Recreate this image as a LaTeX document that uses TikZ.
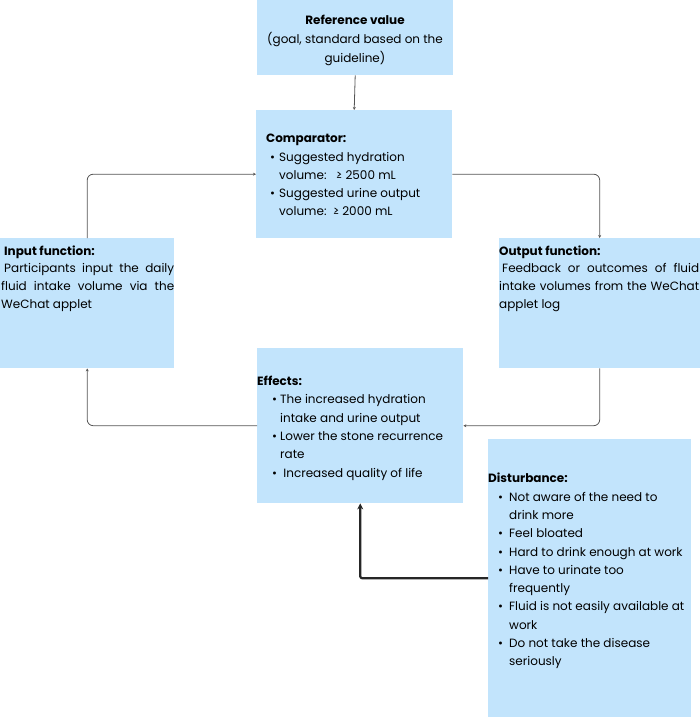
\documentclass[tikz,border=0pt]{standalone}
\usepackage{fontspec}
\setmainfont{Poppins}
\usetikzlibrary{arrows.meta}
\definecolor{boxblue}{HTML}{C2E4FC}
\definecolor{linegray}{HTML}{555555}
\newcommand{\bl}[1]{\makebox[9pt][l]{\textbullet}#1}
\newcommand{\cl}[1]{\hspace*{9pt}#1}
\newcommand{\blb}[1]{\makebox[8pt][l]{\textbullet}#1}
\newcommand{\clb}[1]{\hspace*{8pt}#1}
\newcommand{\bld}[1]{\makebox[11pt][l]{\textbullet}#1}
\newcommand{\cld}[1]{\hspace*{11pt}#1}
\tikzset{
  box/.style={fill=boxblue, draw=none, anchor=north west, inner sep=0pt},
  txt/.style={anchor=north west, inner sep=0pt, align=left, font=\fontsize{12}{18.3}\selectfont},
  jtxt/.style={anchor=north west, inner sep=0pt, align=justify, font=\fontsize{12}{18.3}\selectfont},
  arr/.style={draw=linegray, line width=0.8pt, -{Stealth[length=3pt,width=3pt]}, rounded corners=6pt},
  thickarr/.style={draw=black!85, line width=2.2pt, -{Stealth[length=6pt,width=6pt]}, rounded corners=2pt}
}
\begin{document}
\begin{tikzpicture}[x=1pt,y=-1pt]
\useasboundingbox (0,0) rectangle (700,717);
% boxes
\node[box, minimum width=196pt, minimum height=75pt] (ref) at (257,0) {};
\node[box, minimum width=196pt, minimum height=128pt] (comp) at (256,110) {};
\node[box, minimum width=174pt, minimum height=130pt] (inp) at (0,238) {};
\node[box, minimum width=201pt, minimum height=130pt] (out) at (499,238) {};
\node[box, minimum width=206pt, minimum height=155pt] (eff) at (257,348) {};
\node[box, minimum width=203pt, minimum height=278pt] (dist) at (488,439) {};
% texts
\node[anchor=north, inner sep=0pt, align=center, font=\fontsize{12}{19}\selectfont] (reft) at (355,15) {\textbf{Reference value}\\(goal, standard based on the\\guideline)};
\node[txt] (compt) at (266,134) {\textbf{Comparator:}\\\hspace*{4pt}\bl{Suggested hydration}\\\hspace*{4pt}\cl{volume:\ \ \ ≥ 2500 mL}\\\hspace*{4pt}\bl{Suggested urine output}\\\hspace*{4pt}\cl{volume:\ \ ≥ 2000 mL}};
\node[txt] (inpt) at (4,246) {\textbf{Input function:}};
\node[jtxt, text width=173pt] (inpb) at (1,263) {\hspace*{3pt}Participants input the daily\linebreak fluid intake volume via the\linebreak WeChat applet};
\node[txt] (outt) at (499,246) {\textbf{Output function:}};
\node[jtxt, text width=200pt] (outb) at (499,263) {\hspace*{3pt}Feedback or outcomes of fluid\linebreak intake volumes from the WeChat\linebreak applet log};
\node[txt] (efft) at (257,376) {\textbf{Effects:}\\\hspace*{15pt}\blb{The increased hydration}\\\hspace*{15pt}\clb{intake and urine output}\\\hspace*{15pt}\blb{Lower the stone recurrence}\\\hspace*{15pt}\clb{rate}\\\hspace*{15pt}\blb{\ Increased quality of life}};
\node[txt] (distt) at (488,473) {\textbf{Disturbance:}\\\hspace*{10pt}\bld{Not aware of the need to}\\\hspace*{10pt}\cld{drink more}\\\hspace*{10pt}\bld{Feel bloated}\\\hspace*{10pt}\bld{Hard to drink enough at work}\\\hspace*{10pt}\bld{Have to urinate too}\\\hspace*{10pt}\cld{frequently}\\\hspace*{10pt}\bld{Fluid is not easily available at}\\\hspace*{10pt}\cld{work}\\\hspace*{10pt}\bld{Do not take the disease}\\\hspace*{10pt}\cld{seriously}};
% connectors
\draw[arr] (ref.south) -- (comp.north);
\draw[arr] (inp.north) |- (comp.west);
\draw[arr] (comp.east) -| (out.north);
\draw[arr] (out.south) |- (eff.east);
\draw[arr] (eff.west) -| (inp.south);
\draw[thickarr] (dist.west) -| (eff.south);
\end{tikzpicture}
\end{document}
